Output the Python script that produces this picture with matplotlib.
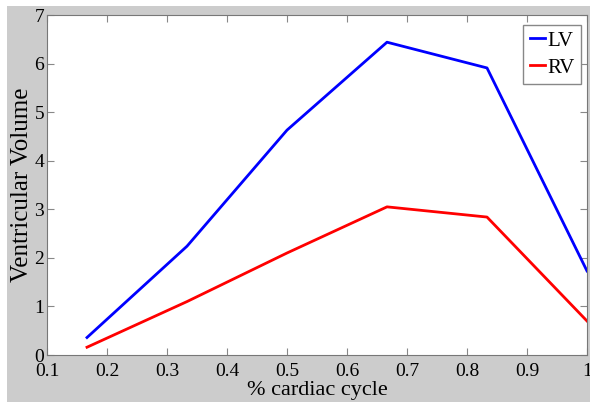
import numpy as np
import matplotlib.pyplot as plt
from matplotlib.patches import Rectangle

# cardiac cycle fraction and ventricular volumes
cycle = [1/6, 2/6, 3/6, 4/6, 5/6, 1.0]
lv = [0.36, 2.24, 4.63, 6.44, 5.91, 1.73]
rv = [0.16, 1.10, 2.10, 3.05, 2.84, 0.70]
xtick_labels = ['0.1', '0.2', '0.3', '0.4', '0.5', '0.6', '0.7', '0.8', '0.9', '1']

plt.rcParams['font.family'] = ['Liberation Serif', 'DejaVu Serif']

fig = plt.figure(figsize=(5.9, 4.05), dpi=100)
fig.patch.set_facecolor('white')
# gray figure panel (thin white margin on the left, top and bottom)
fig.add_artist(Rectangle((7/590, 3/405), 583/590, 396/405, transform=fig.transFigure,
                         facecolor='#cccccc', edgecolor='none', zorder=-10))

ax = fig.add_axes([47/590, 1 - 355/405, 540/590, 340/405])

ax.plot(cycle, lv, color='#0000ff', lw=2, label='LV')
ax.plot(cycle, rv, color='#ff0000', lw=2, label='RV')

ax.set_xlim(0.1, 1.0)
ax.set_ylim(0, 7)
ax.set_xticks(np.arange(0.1, 1.01, 0.1))
ax.set_xticklabels(xtick_labels)
ax.set_yticks(range(0, 8))
ax.tick_params(direction='in', top=True, right=True, labelsize=14, length=5,
               color='#888888')
ax.tick_params(axis='x', pad=5.5)
ax.tick_params(axis='y', pad=2)
for s in ax.spines.values():
    s.set_color('#777777')

ax.set_xlabel('% cardiac cycle', fontsize=16, labelpad=1)
ax.set_ylabel('Ventricular Volume', fontsize=18, labelpad=1)

leg = ax.legend(loc='upper right', bbox_to_anchor=(0.989, 0.971), borderaxespad=0,
                fontsize=15, handlelength=0.75, handletextpad=0.1,
                fancybox=False, framealpha=1, borderpad=0.3, labelspacing=0.35)
leg.get_frame().set_edgecolor('#888888')

fig.savefig('out.png', dpi=100, facecolor=fig.get_facecolor())
